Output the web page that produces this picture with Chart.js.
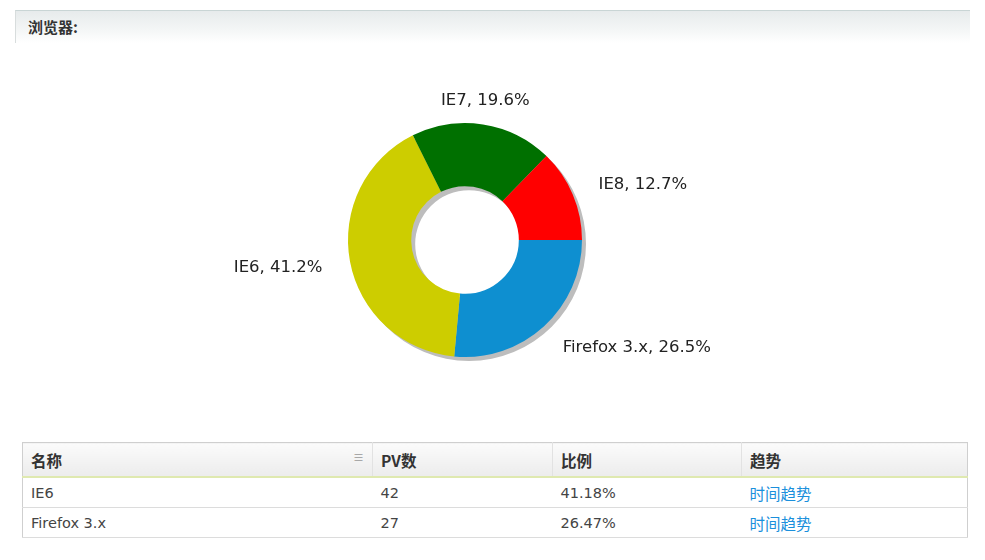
<!DOCTYPE html>
<html>
<head>
<meta charset="utf-8">
<script src="https://cdn.jsdelivr.net/npm/chart.js@4"></script>
<style>
  html, body { margin:0; padding:0; background:#fff; width:985px; height:560px; overflow:hidden;
    font-family:"DejaVu Sans","Noto Sans CJK SC",sans-serif; }
  .bar { position:absolute; left:15px; top:10px; width:955px; height:33px;
    border-top:1px solid #c9d5d5; border-left:1px solid #d8dddd;
    background:linear-gradient(#e7ebec, #f4f6f6 60%, #ffffff); box-sizing:border-box; }
  .bar span { position:absolute; left:12px; top:6px; font-size:15px; font-weight:bold; color:#333;
    font-family:"Noto Sans CJK SC","DejaVu Sans",sans-serif; line-height:20px; }
  #wrap { position:absolute; left:0; top:45px; width:930px; height:390px; }
  table { position:absolute; left:22px; top:442px; width:946px; border-collapse:collapse;
    border:1px solid #cfcfcf; border-bottom:none; font-size:14.5px; color:#444; table-layout:fixed; }
  th { height:33px; text-align:left; padding:0 0 0 8px; font-weight:bold; color:#333;
    font-family:"Noto Sans CJK SC","DejaVu Sans",sans-serif; font-size:15.5px;
    background:linear-gradient(#fbfbfb, #ececec); border-left:1px solid #e2e2e2;
    border-bottom:2px solid #dfe9b0; position:relative; }
  th:first-child { border-left:none; }
  th .ic { position:absolute; right:8px; top:6px; color:#999; font-size:11px; font-weight:normal; }
  td { height:29px; padding:0 0 0 8px; border-bottom:1px solid #dcdcdc; }
  td.link { color:#1a90dc; font-family:"Noto Sans CJK SC",sans-serif; font-size:15.5px; }
</style>
</head>
<body>
<div class="bar"><span>浏览器:</span></div>
<div id="wrap"><canvas id="c"></canvas></div>
<table id="tbl">
  <colgroup><col style="width:350px"><col style="width:180px"><col style="width:189px"><col></colgroup>
  <thead><tr id="hdr"></tr></thead>
  <tbody id="body"></tbody>
</table>
<script>
const categories = ["Firefox 3.x", "IE6", "IE7", "IE8"];
const pvValues = [27, 42, 20, 13];
const sliceColors = ["#0e8fd0", "#cdcd00", "#007000", "#ff0000"];
const tableHeaders = ["名称", "PV数", "比例", "趋势"];
const tableRowNames = ["IE6", "Firefox 3.x"];
const trendText = "时间趋势";

const total = pvValues.reduce((a, b) => a + b, 0);

// table
const hdr = document.getElementById('hdr');
tableHeaders.forEach((h, i) => {
  const th = document.createElement('th');
  th.textContent = h;
  if (i === 0) { const s = document.createElement('span'); s.className = 'ic'; s.textContent = '≡'; th.appendChild(s); }
  hdr.appendChild(th);
});
const body = document.getElementById('body');
tableRowNames.forEach(name => {
  const idx = categories.indexOf(name);
  const v = pvValues[idx];
  const tr = document.createElement('tr');
  [name, String(v), (v / total * 100).toFixed(2) + '%', trendText].forEach((t, i) => {
    const td = document.createElement('td');
    td.textContent = t;
    if (i === 3) td.className = 'link';
    tr.appendChild(td);
  });
  body.appendChild(tr);
});

const shadowPlugin = {
  id: 'ringShadow',
  beforeDatasetsDraw(chart) {
    const arc = chart.getDatasetMeta(0).data[0];
    if (!arc) return;
    const { x, y, outerRadius, innerRadius } = arc.getProps(['x', 'y', 'outerRadius', 'innerRadius'], true);
    const ctx = chart.ctx;
    ctx.save();
    ctx.fillStyle = '#bdbdbd';
    ctx.beginPath();
    ctx.arc(x + 4, y + 4, outerRadius, 0, Math.PI * 2);
    ctx.arc(x + 4, y + 4, innerRadius, 0, Math.PI * 2, true);
    ctx.fill();
    ctx.restore();
  }
};

const labelPlugin = {
  id: 'outLabels',
  afterDatasetsDraw(chart) {
    const meta = chart.getDatasetMeta(0);
    const ctx = chart.ctx;
    ctx.save();
    ctx.font = '16.5px "DejaVu Sans", sans-serif';
    ctx.fillStyle = '#222';
    ctx.textBaseline = 'middle';
    meta.data.forEach((arc, i) => {
      const p = arc.getProps(['x', 'y', 'startAngle', 'endAngle', 'outerRadius'], true);
      const a = (p.startAngle + p.endAngle) / 2;
      const r = p.outerRadius + 28;
      let lx = p.x + Math.cos(a) * r;
      let ly = p.y + Math.sin(a) * r;
      const c = Math.cos(a);
      if (Math.abs(c) < 0.3) { ctx.textAlign = 'center'; ly += 4; lx -= 2; }
      else if (c > 0) { ctx.textAlign = 'left'; ly += 1; }
      else { ctx.textAlign = 'right'; ly += 1; }
      const pct = (pvValues[i] / total * 100).toFixed(1);
      ctx.fillText(categories[i] + ', ' + pct + '%', lx, ly);
    });
    ctx.restore();
  }
};

new Chart(document.getElementById('c'), {
  type: 'doughnut',
  data: {
    labels: categories,
    datasets: [{
      data: pvValues,
      backgroundColor: sliceColors,
      borderWidth: 0,
      hoverOffset: 0,
      offset: 0
    }]
  },
  options: {
    responsive: true,
    maintainAspectRatio: false,
    animation: false,
    rotation: 90,
    cutout: '46%',
    layout: { padding: { top: 78, bottom: 78, left: 0, right: 0 } },
    plugins: { legend: { display: false }, tooltip: { enabled: false } },
    events: []
  },
  plugins: [shadowPlugin, labelPlugin]
});
</script>
</body>
</html>
